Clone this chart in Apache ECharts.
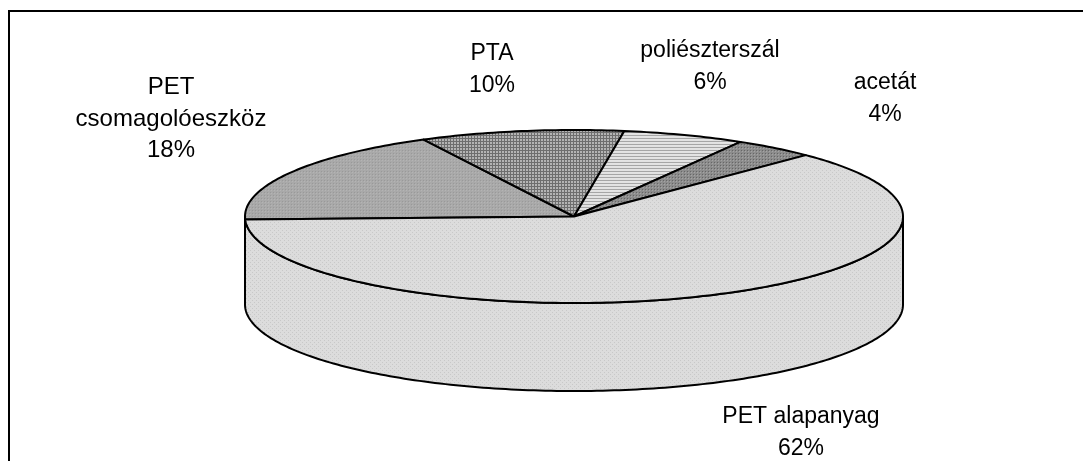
<!DOCTYPE html>
<html>
<head>
<meta charset="utf-8">
<style>
  html, body { margin: 0; padding: 0; background: #fff; }
  #chart { width: 1083px; height: 461px; }
</style>
<script src="https://cdn.jsdelivr.net/npm/echarts@6/dist/echarts.min.js"></script>
</head>
<body>
<div id="chart"></div>
<script>
// clockwise from the left edge of the pie
const categories = ['PET\ncsomagolóeszköz', 'PTA', 'poliészterszál', 'acetát', 'PET alapanyag']
const values = [18, 10, 6, 4, 62]

// pie geometry, tilted by squashing a circle into an ellipse
const pie = { cx: 574, cy: 216.5, rx: 329, ry: 86.5, depth: 88, start: 182 }
const labelPos = [[171, 119], [492, 69.5], [710, 66.5], [885, 98.5], [801, 432.5]]
const labelSize = [24, 23, 23, 23, 23]

function pattern (size, bg, dots) {
  const c = document.createElement('canvas')
  c.width = c.height = size
  const ctx = c.getContext('2d')
  ctx.fillStyle = bg
  ctx.fillRect(0, 0, size, size)
  dots.forEach(d => {
    ctx.fillStyle = d[3]
    ctx.fillRect(d[0], d[1], d[2], 1)
  })
  return { image: c, repeat: 'repeat' }
}

const fills = [
  pattern(3, '#a9a9a9', [[0, 0, 1, '#999'], [1, 1, 1, '#b4b4b4']]),
  pattern(3, '#8e8e8e', [[0, 0, 3, '#6e6e6e'], [0, 1, 1, '#6e6e6e'], [0, 2, 1, '#6e6e6e'], [1, 1, 2, '#b4b4b4'], [1, 2, 2, '#b4b4b4']]),
  pattern(3, '#e2e2e2', [[0, 0, 3, '#a6a6a6'], [0, 1, 3, '#e4e4e4']]),
  pattern(3, '#8c8c8c', [[0, 0, 1, '#666'], [1, 1, 1, '#a4a4a4']]),
  pattern(4, '#dcdcdc', [[0, 0, 1, '#c8c8c8'], [2, 2, 1, '#c8c8c8']])
]

function onEllipse (deg, dy) {
  const a = deg * Math.PI / 180
  return [pie.cx + pie.rx * Math.cos(a), pie.cy - pie.ry * Math.sin(a) + (dy || 0)]
}

function arc (from, to, dy) {
  const pts = []
  const n = Math.max(2, Math.ceil(Math.abs(to - from)))
  for (let i = 0; i <= n; i++) {
    pts.push(onEllipse(from + (to - from) * i / n, dy))
  }
  return pts
}

const total = values.reduce((a, b) => a + b, 0)
let before = 0
const seriesData = values.map(v => {
  const row = [v, before]
  before += v
  return row
})

function renderSlice (params, api) {
  const i = params.dataIndex
  const from = pie.start - api.value(1) / total * 360
  const to = from - api.value(0) / total * 360
  const line = { stroke: '#000', lineWidth: 2, lineJoin: 'round' }
  const children = []
  // the last slice runs round the near side, so it carries the wall
  if (i === values.length - 1) {
    children.push({
      type: 'polygon',
      shape: { points: arc(-180, 0, 0).concat(arc(0, -180, pie.depth)) },
      style: Object.assign({ fill: fills[i] }, line)
    })
  }
  children.push({
    type: 'polygon',
    shape: { points: [[pie.cx, pie.cy]].concat(arc(from, to, 0)) },
    style: Object.assign({ fill: fills[i] }, line)
  })
  children.push({
    type: 'text',
    x: labelPos[i][0],
    y: labelPos[i][1],
    style: {
      text: categories[i] + '\n' + api.value(0) + '%',
      font: labelSize[i] + 'px "Liberation Sans", Arial, sans-serif',
      lineHeight: 31.5,
      fill: '#000',
      align: 'center',
      verticalAlign: 'middle'
    }
  })
  return { type: 'group', children }
}

const chart = echarts.init(document.getElementById('chart'), null, { renderer: 'canvas' })
chart.setOption({
  animation: false,
  backgroundColor: '#fff',
  graphic: [{
    type: 'polyline',
    shape: { points: [[9, 461], [9, 11], [1083, 11]] },
    style: { stroke: '#000', lineWidth: 2, fill: null },
    silent: true
  }],
  series: [{
    type: 'custom',
    coordinateSystem: 'none',
    data: seriesData,
    renderItem: renderSlice
  }]
})
</script>
</body>
</html>
